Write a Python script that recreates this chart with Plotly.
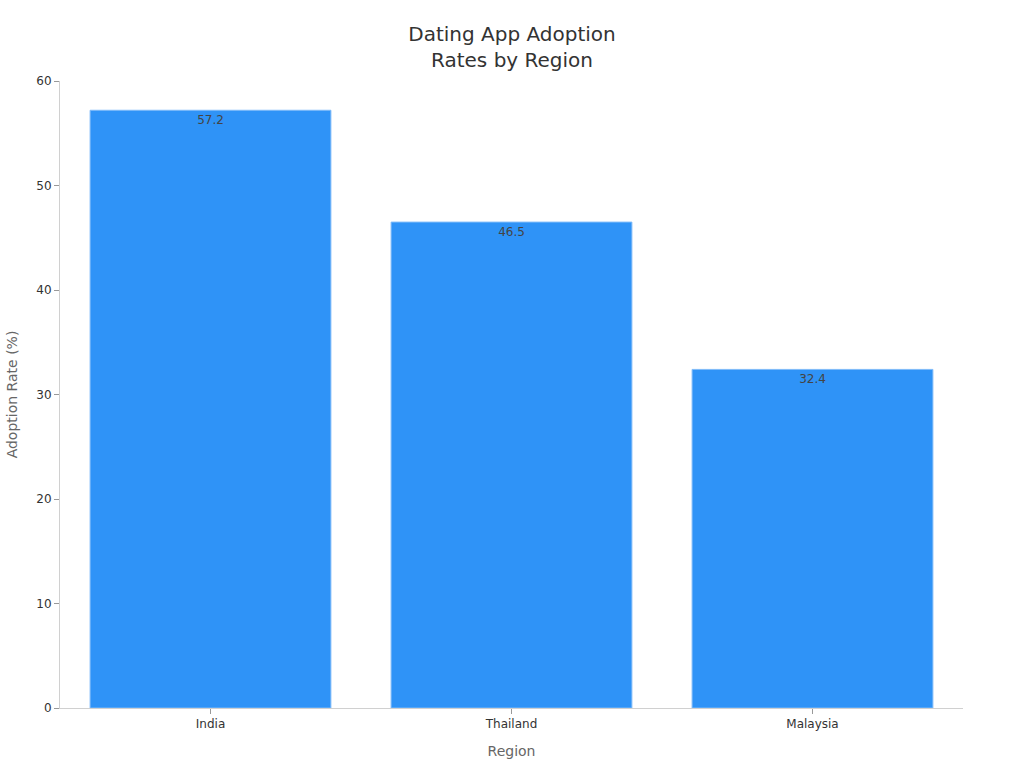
import plotly.graph_objects as go

regions = ["India", "Thailand", "Malaysia"]
adoption_rates = [57.2, 46.5, 32.4]

fig = go.Figure()
fig.add_trace(go.Bar(
    x=regions,
    y=adoption_rates,
    text=[f"{v:.1f}" for v in adoption_rates],
    textposition="inside",
    insidetextanchor="end",
    textfont=dict(size=12, color="#444444"),
    marker=dict(color="#2F93F7", line=dict(color="#7FBBF9", width=1)),
))

fig.update_layout(
    title=dict(text="Dating App Adoption<br>Rates by Region", x=0.5, xanchor="center",
               y=0.946, font=dict(size=20, color="#333333")),
    font=dict(family="DejaVu Sans", size=12, color="#333333"),
    plot_bgcolor="white",
    paper_bgcolor="white",
    width=1024,
    height=768,
    margin=dict(l=60, r=61, t=81, b=60),
    bargap=0.2,
    showlegend=False,
    xaxis=dict(
        title=dict(text="Region", font=dict(size=14, color="#666666")),
        showline=True, linecolor="#d0d0d0", linewidth=1,
        ticks="outside", tickcolor="#999999", ticklen=5,
        showgrid=False,
    ),
    yaxis=dict(
        title=dict(text="Adoption Rate (%)", font=dict(size=14, color="#666666")),
        range=[0, 60],
        dtick=10,
        showline=True, linecolor="#d0d0d0", linewidth=1,
        ticks="outside", tickcolor="#999999", ticklen=5,
        showgrid=False, zeroline=False,
    ),
)

# drop the default page margin so the chart fills the window
fig.write_html("out.html", config={"displayModeBar": False},
               post_script="document.body.style.margin='0';")
